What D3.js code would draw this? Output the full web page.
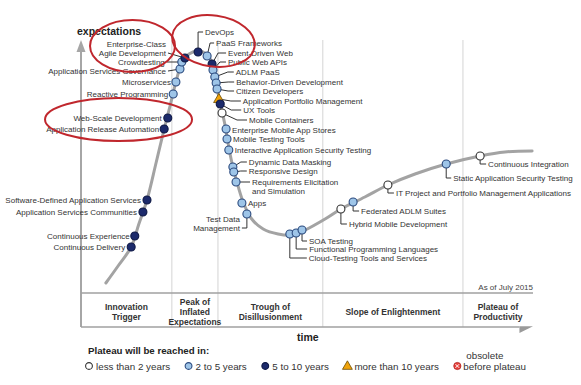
<!DOCTYPE html>
<html lang="en">
<head>
<meta charset="utf-8">
<title>Hype Cycle for Application Development, 2015</title>
<script src="https://d3js.org/d3.v7.min.js"></script>
<style>
  body { margin: 0; background: #fff; }
  svg { font-family: Arial, "Liberation Sans", sans-serif; }
</style>
</head>
<body>
<script>
var w = 581;
var h = 385;

// hype curve (time 0-100, expectations 0-100)
var curveTime = [5.5, 8.2, 11.1, 12.8, 14.6, 16.6, 18.4, 19.7, 21.0, 22.3, 23.9, 25.9, 27.7, 29.0, 29.6, 30.3, 31.0, 31.9, 32.5, 33.4, 34.5, 35.8, 37.6, 40.3, 43.6, 46.7, 49.6, 54.0, 57.5, 62.8, 67.9, 73.9, 80.8, 88.3, 93.8, 99.8];
var curveExp  = [4.0, 10.8, 18.4, 27.6, 37.2, 52.0, 65.6, 74.8, 84.4, 92.0, 95.6, 96.8, 95.6, 92.0, 86.4, 80.0, 74.4, 66.8, 60.4, 52.0, 44.4, 36.8, 30.0, 25.6, 23.6, 23.2, 25.2, 29.6, 33.6, 38.4, 43.2, 47.6, 51.6, 54.8, 56.4, 56.8];

var techNames = [
  "Continuous Delivery", "Continuous Experience", "Application Services Communities",
  "Software-Defined Application Services", "Application Release Automation", "Web-Scale Development",
  "Reactive Programming", "Microservices", "Application Services Governance", "Crowdtesting",
  "Enterprise-Class Agile Development", "DevOps", "PaaS Frameworks", "Event-Driven Web",
  "Public Web APIs", "ADLM PaaS", "Behavior-Driven Development", "Citizen Developers",
  "Application Portfolio Management", "UX Tools", "Mobile Containers", "Enterprise Mobile App Stores",
  "Mobile Testing Tools", "Interactive Application Security Testing", "Dynamic Data Masking",
  "Responsive Design", "Requirements Elicitation and Simulation", "Apps", "Test Data Management",
  "Cloud-Testing Tools and Services", "Functional Programming Languages", "SOA Testing",
  "Hybrid Mobile Development", "Federated ADLM Suites", "IT Project and Portfolio Management Applications",
  "Static Application Security Testing", "Continuous Integration"
];
var techTime = [11.1, 11.9, 13.7, 14.6, 18.4, 19.2, 20.4, 21.0, 21.9, 22.3, 23.0, 25.9, 27.9, 29.0, 29.2, 29.6, 29.9, 30.1, 30.5, 30.8, 31.2, 32.1, 32.3, 32.7, 33.6, 33.8, 34.3, 35.6, 36.7, 46.2, 47.6, 48.9, 57.5, 60.2, 67.9, 80.8, 88.3];
var techExp  = [18.4, 22.8, 32.4, 37.2, 65.6, 70.0, 79.6, 84.4, 89.6, 92.4, 94.0, 96.4, 94.8, 91.6, 89.2, 86.4, 84.0, 81.6, 77.6, 75.6, 72.0, 65.6, 61.6, 57.2, 50.4, 48.4, 44.4, 36.0, 31.6, 23.6, 24.0, 25.2, 33.6, 36.4, 43.2, 51.6, 54.8];
// 0: less than 2 years, 1: 2 to 5, 2: 5 to 10, 3: more than 10
var techPlateau = [2, 2, 2, 2, 2, 2, 1, 1, 1, 1, 2, 2, 1, 2, 1, 1, 1, 1, 3, 2, 0, 1, 1, 1, 1, 1, 1, 1, 1, 1, 1, 1, 0, 1, 0, 1, 0];

var phaseNames = [["Innovation", "Trigger"], ["Peak of", "Inflated", "Expectations"], ["Trough of", "Disillusionment"], ["Slope of Enlightenment"], ["Plateau of", "Productivity"]];
var phaseBounds = [0, 20.1, 30.3, 53.5, 84.5, 100];

var plateauLabels = ["less than 2 years", "2 to 5 years", "5 to 10 years", "more than 10 years", "before plateau"];

// label placement: [dx, dy, leader elbow] in px, relative to marker
var labelLayout = [
  [-6, 0, null], [-5, 0, null], [-6, 0, null], [-6, 0, null], [-5, 0, null], [-6, 0, null],
  [-5, 0, null], [-5, 0, null], [-14, 2, 2], [-17, 0, 2], [-19, -14, 2], [7, -20, 7],
  [9, -13, 6], [16, -11, 10], [15, -8, 8], [21, -5, 8], [20, -1, 8], [19, 2, 8],
  [24, 2, 12], [23, 6, 12], [27, 7, 12], [6, 1, null], [6, 0, null], [6, 0, null],
  [16, -5, 8], [15, -1, 8], [16, 0, 8], [6, 0, null], [-7, 5, 7],
  [19, 24, 19], [13, 16, 13], [7, 11, 7], [8, 15, 8], [8, 9, 8], [8, 8, 8], [7, 14, 7], [8, 8, 8]
];
var wrapped = {
  "Enterprise-Class Agile Development": ["Enterprise-Class", "Agile Development"],
  "Requirements Elicitation and Simulation": ["Requirements Elicitation", "and Simulation"],
  "Test Data Management": ["Test Data", "Management"]
};

var colors = ["#ffffff", "#9ec5e8", "#1c2a6b", "#f0a30a"];
var strokes = ["#333333", "#2b4a7e", "#0e1845", "#6b4a00"];

var svg = d3.select("body").append("svg").attr("width", w).attr("height", h);
var x = d3.scaleLinear().domain([0, 100]).range([81, 533]);
var y = d3.scaleLinear().domain([0, 100]).range([293, 43]);
var tableBottom = 327;

// phase dividers
svg.selectAll(".grid").data(phaseBounds.slice(1, 5)).enter().append("line")
  .attr("x1", d => x(d)).attr("x2", d => x(d))
  .attr("y1", y(101.2)).attr("y2", tableBottom)
  .attr("stroke", "#d4d4d4").attr("stroke-width", 1);

// axes
svg.append("line").attr("x1", x(0)).attr("x2", x(0)).attr("y1", tableBottom).attr("y2", 50)
  .attr("stroke", "#a6a6a6").attr("stroke-width", 2);
svg.append("path").attr("d", "M" + (x(0) - 4.5) + ",52L" + x(0) + ",40L" + (x(0) + 4.5) + ",52Z").attr("fill", "#a6a6a6");
svg.append("line").attr("x1", x(0)).attr("x2", x(100)).attr("y1", y(0)).attr("y2", y(0))
  .attr("stroke", "#a0a0a0").attr("stroke-width", 1.5);
svg.append("line").attr("x1", x(0)).attr("x2", x(97)).attr("y1", tableBottom).attr("y2", tableBottom)
  .attr("stroke", "#a0a0a0").attr("stroke-width", 1.5);
svg.append("path").attr("d", "M" + x(97) + "," + (tableBottom - 0.8) + "L" + x(100) + "," + (tableBottom - 0.8) + "L" + x(97) + "," + (tableBottom + 6) + "Z").attr("fill", "#9a9a9a");

svg.append("text").attr("x", 77).attr("y", 35).attr("font-size", 10.5).attr("font-weight", "bold")
  .attr("fill", "#222").text("expectations");
svg.append("text").attr("x", 297).attr("y", 340.5).attr("font-size", 10.5).attr("font-weight", "bold")
  .attr("fill", "#222").text("time");
svg.append("text").attr("x", x(100)).attr("y", 290).attr("text-anchor", "end").attr("font-size", 8)
  .attr("fill", "#444").text("As of July 2015");

// phase names in the table
phaseNames.forEach(function (lines, i) {
  var cx = x((phaseBounds[i] + phaseBounds[i + 1]) / 2);
  var t = svg.append("text").attr("text-anchor", "middle").attr("font-size", 8.5)
    .attr("font-weight", "bold").attr("fill", "#333");
  lines.forEach(function (s, j) {
    t.append("tspan").attr("x", cx).attr("y", 312 + (j - (lines.length - 1) / 2) * 10 + 3).text(s);
  });
});

// curve
var line = d3.line().x((d, i) => x(curveTime[i])).y((d, i) => y(curveExp[i])).curve(d3.curveCatmullRom);
svg.append("path").attr("d", line(curveTime)).attr("fill", "none")
  .attr("stroke", "#a3a3a3").attr("stroke-width", 3).attr("stroke-linecap", "round");

// red highlight ellipses
var highlights = [
  { cx: 11.4, cy: 98.8, rx: 42.5, ry: 26, rot: 0 },
  { cx: 29.3, cy: 100.8, rx: 41.5, ry: 25.5, rot: 8 },
  { cx: 8.3, cy: 69.4, rx: 73.5, ry: 21.5, rot: 0 }
];

// leaders, markers, labels
var gLead = svg.append("g"), gMark = svg.append("g"), gLab = svg.append("g");
techNames.forEach(function (name, i) {
  var mx = x(techTime[i]), my = y(techExp[i]);
  var lay = labelLayout[i];
  var lines = wrapped[name] || [name];
  var lx = mx + lay[0], ly = my + lay[1];
  var end = lay[0] < 0;
  if (lay[2] !== null) {
    var p;
    if (end) {
      var lyl = ly + (lines.length - 1) * 9;
      p = [[mx, my], [lx + lay[2], lyl], [lx + 2, lyl]];
    } else {
      p = [[mx, my], [lx - lay[2], ly], [lx - 2, ly]];
    }
    gLead.append("path").attr("d", d3.line()(p)).attr("fill", "none")
      .attr("stroke", "#333").attr("stroke-width", 1);
  }
  var c = techPlateau[i];
  if (c === 3) {
    gMark.append("path").attr("d", d3.symbol(d3.symbolTriangle, 48)())
      .attr("transform", "translate(" + mx + "," + (my + 0.5) + ")")
      .attr("fill", colors[c]).attr("stroke", strokes[c]).attr("stroke-width", 0.8);
  } else {
    gMark.append("circle").attr("cx", mx).attr("cy", my).attr("r", 4)
      .attr("fill", colors[c]).attr("stroke", strokes[c]).attr("stroke-width", 1.1);
  }
  var t = gLab.append("text").attr("font-size", 8).attr("fill", "#333")
    .attr("text-anchor", end ? "end" : "start");
  lines.forEach(function (s, j) {
    t.append("tspan").attr("x", lx).attr("y", ly + 3 + j * 9).text(s);
  });
});

svg.selectAll(".hl").data(highlights).enter().append("ellipse")
  .attr("cx", 0).attr("cy", 0).attr("rx", d => d.rx).attr("ry", d => d.ry)
  .attr("transform", d => "translate(" + x(d.cx) + "," + y(d.cy) + ") rotate(" + d.rot + ")")
  .attr("fill", "none").attr("stroke", "#c0272d").attr("stroke-width", 2);

// legend
svg.append("text").attr("x", 88).attr("y", 353.5).attr("font-size", 9.7).attr("font-weight", "bold")
  .attr("fill", "#222").text("Plateau will be reached in:");
var lx0 = 89, ly0 = 366;
plateauLabels.forEach(function (s, i) {
  var g = svg.append("g").attr("transform", "translate(" + lx0 + "," + ly0 + ")");
  if (i === 3) {
    g.append("path").attr("d", d3.symbol(d3.symbolTriangle, 42)()).attr("transform", "translate(0,0.5)")
      .attr("fill", colors[3]).attr("stroke", strokes[3]).attr("stroke-width", 0.8);
  } else if (i === 4) {
    g.append("circle").attr("r", 3.6).attr("fill", "#e8413c").attr("stroke", "#b02020").attr("stroke-width", 0.8);
    g.append("path").attr("d", "M-1.8,-1.8L1.8,1.8M-1.8,1.8L1.8,-1.8").attr("stroke", "#fff").attr("stroke-width", 1);
  } else {
    g.append("circle").attr("r", 3.4).attr("fill", colors[i]).attr("stroke", strokes[i]).attr("stroke-width", 1.1);
  }
  var tx = i === 4 ? 6 : 7;
  var t = g.append("text").attr("x", tx).attr("y", 3.5).attr("font-size", 9.8).attr("fill", "#333").text(s);
  if (i === 4) {
    g.append("text").attr("x", tx + 3).attr("y", -7).attr("font-size", 9.8).attr("fill", "#333").text("obsolete");
  }
  lx0 += tx + t.node().getComputedTextLength() + 18.5;
});
</script>
</body>
</html>
